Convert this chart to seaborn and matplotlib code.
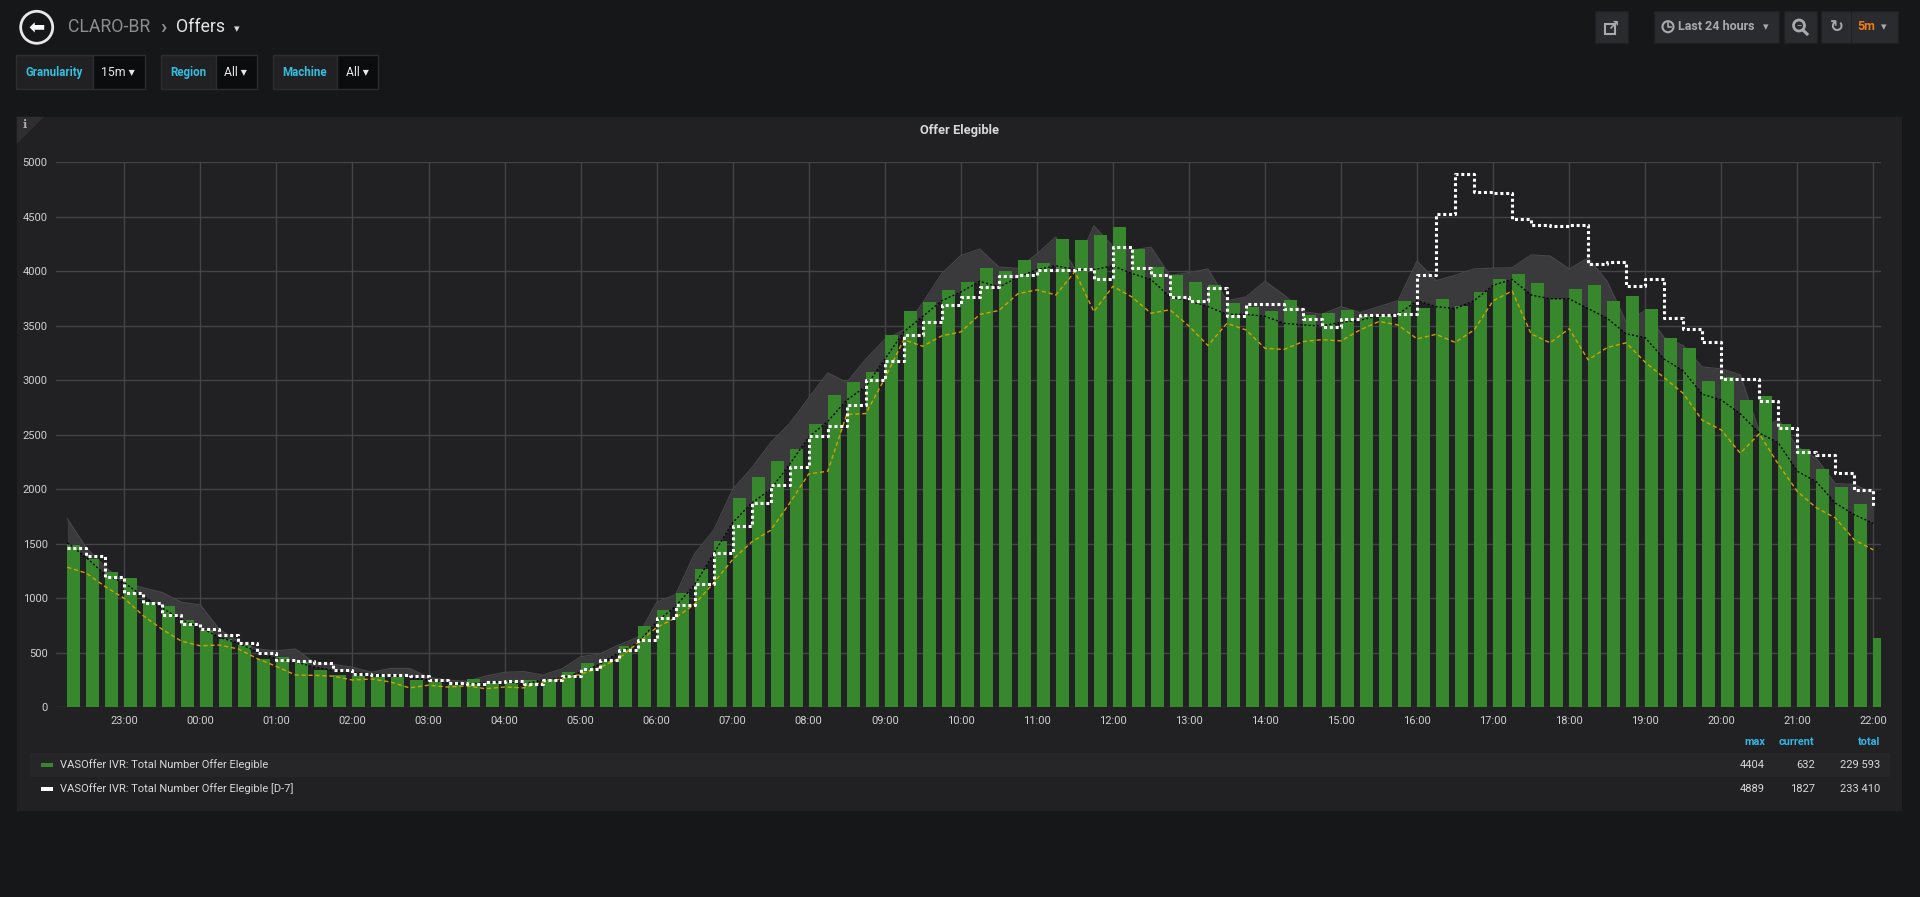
import numpy as np
import pandas as pd
import seaborn as sns
import matplotlib.pyplot as plt
import matplotlib as mpl
from matplotlib.patches import Rectangle, Ellipse, Polygon

mpl.rcParams['font.family'] = ['Roboto', 'DejaVu Sans']

PAGE_BG = '#161719'
PANEL_BG = '#212124'
GREEN = '#37872d'
TEXT = '#d8d9da'
BLUE = '#33b5e5'

# 15 minute slots, 22:15 .. 22:00 next day
slots = pd.date_range('2018-06-11 22:15', periods=96, freq='15min')

offer = [1490, 1356, 1238, 1185, 964, 928, 803, 707, 625, 571,
         446, 464, 418, 339, 296, 286, 275, 275, 250, 239,
         203, 257, 225, 243, 250, 260, 321, 403, 428, 564,
         750, 892, 1046, 1267, 1524, 1924, 2113, 2259, 2373, 2598,
         2862, 2984, 3076, 3412, 3637, 3719, 3830, 3904, 4033, 4001,
         4101, 4072, 4294, 4290, 4336, 4404, 4200, 4044, 3969, 3901,
         3872, 3712, 3676, 3633, 3733, 3598, 3615, 3644, 3587, 3594,
         3730, 3662, 3744, 3680, 3808, 3929, 3979, 3890, 3744, 3837,
         3876, 3726, 3776, 3658, 3387, 3298, 2998, 3030, 2820, 2855,
         2602, 2373, 2184, 2024, 1867, 632]

offer_d7 = [1463, 1385, 1196, 1053, 960, 846, 760, 714, 660, 589,
            496, 435, 421, 403, 339, 303, 296, 293, 286, 250,
            221, 214, 232, 243, 214, 250, 286, 350, 435, 525,
            617, 821, 935, 1131, 1420, 1667, 1870, 2038, 2206, 2488,
            2580, 2777, 3002, 3176, 3419, 3533, 3687, 3760, 3855, 3954,
            3962, 4008, 4015, 4022, 3933, 4222, 4033, 3965, 3765, 3730,
            3847, 3587, 3701, 3701, 3658, 3558, 3487, 3558, 3601, 3601,
            3612, 3969, 4522, 4889, 4732, 4715, 4479, 4426, 4415, 4426,
            4069, 4086, 3862, 3926, 3576, 3473, 3348, 3016, 3009, 2812,
            2563, 2345, 2313, 2152, 1991, 1827]

band_max = [1731, 1463, 1285, 1142, 1096, 1053, 964, 939, 714, 607,
            535, 518, 535, 410, 393, 368, 321, 357, 357, 275,
            250, 239, 286, 321, 328, 296, 350, 464, 489, 571,
            642, 964, 1035, 1410, 1624, 1999, 2195, 2427, 2605, 2837,
            3069, 2980, 3194, 3373, 3462, 3712, 3979, 4145, 4204, 4040,
            4026, 4158, 4315, 4022, 4418, 4229, 4193, 4222, 3962, 3987,
            4022, 3730, 3765, 3908, 3783, 3630, 3605, 3676, 3622, 3676,
            3730, 4094, 3915, 3962, 4022, 4029, 4033, 4151, 4140, 4022,
            4122, 3908, 3533, 3640, 3391, 3319, 3123, 3105, 3051, 2534,
            2641, 2391, 2284, 2052, 2045, 1963]

band_avg = [1510, 1374, 1213, 1142, 1017, 910, 803, 732, 642, 589,
            507, 446, 418, 368, 339, 321, 303, 296, 275, 250,
            225, 214, 225, 239, 214, 250, 268, 321, 393, 500,
            589, 785, 928, 1124, 1410, 1695, 1874, 1999, 2231, 2480,
            2623, 2819, 2944, 3194, 3444, 3587, 3730, 3810, 3908, 3855,
            3944, 4015, 4051, 4015, 4015, 4051, 3979, 3926, 3765, 3730,
            3676, 3605, 3605, 3587, 3523, 3508, 3498, 3533, 3551, 3594,
            3605, 3730, 3676, 3658, 3730, 3872, 3926, 3783, 3748, 3748,
            3658, 3569, 3426, 3391, 3194, 3087, 2873, 2819, 2694, 2516,
            2427, 2166, 2070, 1874, 1767, 1688]

band_min = [1285, 1231, 1106, 999, 839, 714, 607, 564, 571, 535,
            446, 375, 296, 293, 286, 250, 260, 232, 178, 203,
            186, 196, 171, 186, 178, 232, 260, 303, 364, 446,
            589, 732, 821, 946, 1142, 1356, 1517, 1624, 1874, 2141,
            2166, 2687, 2695, 3016, 3373, 3312, 3408, 3444, 3605, 3640,
            3794, 3830, 3783, 3997, 3630, 3862, 3765, 3615, 3647, 3498,
            3319, 3523, 3462, 3294, 3283, 3355, 3373, 3362, 3462, 3540,
            3508, 3380, 3422, 3348, 3462, 3730, 3819, 3426, 3344, 3473,
            3187, 3301, 3344, 3166, 3023, 2880, 2634, 2545, 2331, 2509,
            2231, 1981, 1831, 1738, 1535, 1445]

hour_ticks = list(range(23, 47))
hour_labels = ['%02d:00' % (h % 24) for h in hour_ticks]

legend_names = ['VASOffer IVR: Total Number Offer Elegible',
                'VASOffer IVR: Total Number Offer Elegible [D-7]']
legend_max = ['4404', '4889']
legend_current = ['632', '1827']
legend_total = ['229 593', '233 410']

df = pd.DataFrame({'slot': slots, 'offer': offer, 'd7': offer_d7,
                   'bmax': band_max, 'bavg': band_avg, 'bmin': band_min})
df['hour'] = (df['slot'] - df['slot'].iloc[0].normalize()) / pd.Timedelta(hours=1)

W, H = 1920, 897


def fx(x):
    return x / W


def fy(y):
    return 1 - y / H


fig = plt.figure(figsize=(W / 100, H / 100), dpi=100, facecolor=PAGE_BG)

# panel
fig.add_artist(Rectangle((fx(16.7), fy(810.7)), (1902 - 16.7) / W, (810.7 - 116.7) / H,
                         transform=fig.transFigure, color=PANEL_BG, lw=0, zorder=0))
fig.add_artist(Polygon([[fx(16.7), fy(116.7)], [fx(44), fy(116.7)], [fx(16.7), fy(144)]],
                       closed=True, transform=fig.transFigure, color='#2e2e31', lw=0, zorder=1))
fig.text(fx(24.5), fy(124.5), 'i', color='#b0b0b0', fontsize=8, fontweight='bold',
         ha='center', va='center', family=['DejaVu Serif'])
fig.text(fx(959.3), fy(130.7), 'Offer Elegible', color=TEXT, fontsize=9.3,
         fontweight='bold', ha='center', va='center')

ax = fig.add_axes([fx(56), fy(707.3), (1881 - 56) / W, (707.3 - 162.3) / H])
ax.set_facecolor(PANEL_BG)

# grey band behind the bars
ax.fill_between(df['hour'], df['bavg'], df['bmax'], color='#3a3a3d', lw=0, zorder=1)
ax.plot(df['hour'], df['bmax'], color='#48484b', lw=0.8, zorder=1.1)

sns.barplot(data=df, x='hour', y='offer', native_scale=True, width=13 / 19,
            color=GREEN, saturation=1, errorbar=None, linewidth=0, zorder=2, ax=ax)
# grafana draws the bar from the timestamp to the right
for p in ax.patches:
    p.set_x(p.get_x() + p.get_width() / 2)

sns.lineplot(data=df, x='hour', y='bavg', color='#050505', lw=1,
             linestyle=(0, (1.5, 1.5)), errorbar=None, legend=False, zorder=3, ax=ax)
sns.lineplot(data=df, x='hour', y='bmin', color='#cca300', lw=1,
             linestyle=(0, (3, 2)), errorbar=None, legend=False, zorder=3, ax=ax)
sns.lineplot(data=df, x='hour', y='d7', color='white', lw=2.2, drawstyle='steps-post',
             linestyle=(0, (1, 0.9)), errorbar=None, legend=False, zorder=4, ax=ax)

ax.set_xlim(22.101, 46.101)
ax.set_ylim(0, 5000)
ax.set_yticks(range(0, 5001, 500))
ax.set_xticks(hour_ticks)
ax.set_xticklabels(hour_labels)
ax.set_xlabel('')
ax.set_ylabel('')
ax.grid(True, color='#444447', lw=1)
ax.set_axisbelow(True)
for s in ax.spines.values():
    s.set_visible(False)
ax.tick_params(length=0, colors='#d0d1d2', labelsize=8)
ax.tick_params(axis='y', pad=6)
ax.tick_params(axis='x', pad=6)

# legend table
fig.add_artist(Rectangle((fx(30), fy(776.7)), (1890 - 30) / W, 23.4 / H,
                         transform=fig.transFigure, color='#262629', lw=0, zorder=1))
for x, name in [(1765, 'max'), (1814.7, 'current'), (1880, 'total')]:
    fig.text(fx(x), fy(742.3), name, color=BLUE, fontsize=7.8, fontweight='bold',
             ha='right', va='center')
marker_colors = [GREEN, 'white']
for row, y in enumerate([764.5, 788.5]):
    fig.add_artist(Rectangle((fx(40.5), fy(y + 2)), 12 / W, 4 / H,
                             transform=fig.transFigure, color=marker_colors[row], lw=0, zorder=2))
    fig.text(fx(59.5), fy(y), legend_names[row], color=TEXT, fontsize=8,
             ha='left', va='center')
    fig.text(fx(1765), fy(y), legend_max[row], color=TEXT, fontsize=8, ha='right', va='center')
    fig.text(fx(1814.7), fy(y), legend_current[row], color=TEXT, fontsize=8, ha='right', va='center')
    fig.text(fx(1880), fy(y), legend_total[row], color=TEXT, fontsize=8, ha='right', va='center')

# top navbar
fig.add_artist(Ellipse((fx(36.7), fy(27.3)), 32 / W, 32 / H, transform=fig.transFigure,
                       fill=False, ec='#e8e8e8', lw=2))
fig.text(fx(36.7), fy(27.8), '\u2b05', color='white', fontsize=14, ha='center', va='center',
         family=['DejaVu Sans'], fontweight='bold')
fig.text(fx(67.7), fy(27), 'CLARO-BR', color='#8e8e8e', fontsize=12.7, ha='left', va='center')
fig.text(fx(163.5), fy(27), '\u203a', color='#8e8e8e', fontsize=15, ha='center', va='center',
         fontweight='bold')
fig.text(fx(175.7), fy(27), 'Offers', color='#e8e8e8', fontsize=12.7, ha='left', va='center')
fig.text(fx(236.7), fy(29), '\u25be', color='#d8d9da', fontsize=8, ha='center', va='center',
         family=['DejaVu Sans'])

variables = [('Granularity', '15m', 16, 92.7, 145.3),
             ('Region', 'All', 161, 216, 257.3),
             ('Machine', 'All', 273, 337, 378.3)]
for label, value, x0, x1, x2 in variables:
    fig.add_artist(Rectangle((fx(x0), fy(89.3)), (x1 - x0) / W, 34.3 / H, transform=fig.transFigure,
                             fc='#212124', ec='#2c2d30', lw=1))
    fig.add_artist(Rectangle((fx(x1), fy(89.3)), (x2 - x1) / W, 34.3 / H, transform=fig.transFigure,
                             fc='#0b0c0e', ec='#2c2d30', lw=1))
    fig.text(fx(x0 + 9), fy(72.5), label, color='#33bfe0', fontsize=8.3, fontweight='bold',
             ha='left', va='center')
    fig.text(fx(x1 + 8.5), fy(72.5), value + ' \u25be', color='#e8e8e8', fontsize=8.8,
             ha='left', va='center')

BTN = '#2a2b2e'
for x0, x1 in [(1595, 1628), (1654, 1779), (1784, 1817), (1821, 1898)]:
    fig.add_artist(Rectangle((fx(x0), fy(43)), (x1 - x0) / W, 32 / H, transform=fig.transFigure,
                             fc=BTN, ec='#1f2022', lw=1))
fig.add_artist(Rectangle((fx(1851), fy(43)), 0.8 / W, 32 / H, transform=fig.transFigure,
                         fc='#1f2022', lw=0))
ICON = '#a8a9ab'
fig.text(fx(1612.5), fy(25.5), '\u2197', color=ICON, fontsize=10, ha='center', va='center',
         family=['DejaVu Sans'], fontweight='bold')
fig.add_artist(Rectangle((fx(1605), fy(34)), 10 / W, 10 / H, transform=fig.transFigure,
                         fill=False, ec=ICON, lw=1.5))
fig.add_artist(Ellipse((fx(1668), fy(26.7)), 11 / W, 11 / H, transform=fig.transFigure,
                       fill=False, ec=ICON, lw=1.5))
fig.add_artist(plt.Line2D([fx(1668), fx(1668), fx(1671)], [fy(23), fy(27), fy(27)],
                          transform=fig.transFigure, color=ICON, lw=1.2))
fig.text(fx(1678), fy(26.7), 'Last 24 hours', color=ICON, fontsize=9, fontweight='bold',
         ha='left', va='center')
fig.text(fx(1766), fy(26.7), '\u25be', color=ICON, fontsize=8, ha='center', va='center',
         family=['DejaVu Sans'])
fig.add_artist(Ellipse((fx(1799), fy(25.5)), 11 / W, 11 / H, transform=fig.transFigure,
                       fill=False, ec=ICON, lw=2))
fig.text(fx(1799), fy(25.5), '\u2013', color=ICON, fontsize=6, fontweight='bold',
         ha='center', va='center')
fig.add_artist(plt.Line2D([fx(1803), fx(1807)], [fy(30), fy(34)], transform=fig.transFigure,
                          color=ICON, lw=2.2))
fig.text(fx(1836.5), fy(27), '\u21bb', color=ICON, fontsize=12, fontweight='bold',
         ha='center', va='center', family=['DejaVu Sans'])
fig.text(fx(1857), fy(26.7), '5m', color='#eb7b18', fontsize=9, fontweight='bold',
         ha='left', va='center')
fig.text(fx(1884), fy(26.7), '\u25be', color=ICON, fontsize=8, ha='center', va='center',
         family=['DejaVu Sans'])

fig.savefig('out.png', dpi=100, facecolor=PAGE_BG)
